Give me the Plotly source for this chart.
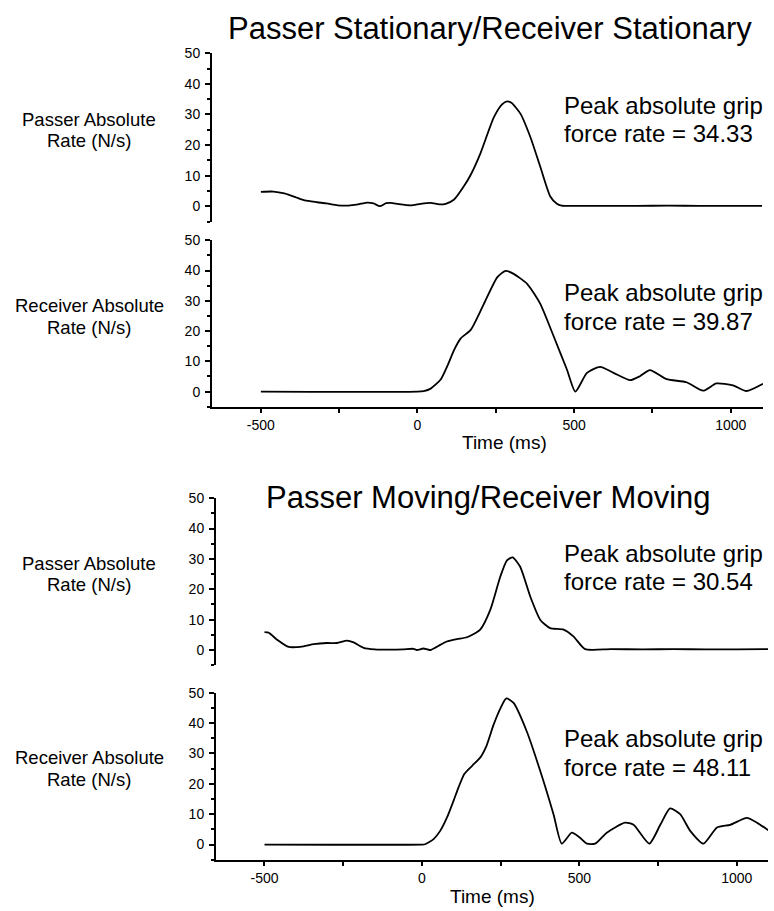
import plotly.graph_objects as go

# ---------------- data ----------------
ps_t = [-500, -460, -425, -390, -360, -320, -290, -255, -220, -190, -160, -140, -120, -100, -85, -60,
        -21, 10, 42, 70, 90, 117, 148, 170, 201, 244, 270, 286, 300, 329, 360, 392, 424, 445, 460,
        500, 600, 700, 800, 900, 1000, 1100]
ps_v = [4.7, 4.8, 4.2, 3.0, 1.9, 1.3, 0.9, 0.3, 0.2, 0.6, 1.2, 0.9, 0.0, 1.0, 1.1, 0.7,
        0.3, 0.8, 1.1, 0.6, 0.8, 2.2, 6.5, 10.3, 17.3, 29.1, 33.3, 34.3, 33.8, 30.2, 22.7, 12.9, 3.2, 0.8, 0.2,
        0.1, 0.1, 0.1, 0.2, 0.1, 0.1, 0.1]

rs_t = [-500, 0, 20, 42, 74, 95, 117, 138, 170, 212, 255, 281, 307, 350, 392, 435, 477, 504,
        541, 583, 626, 679, 710, 742, 795, 859, 912, 954, 1007, 1050, 1103]
rs_v = [0, 0, 0.2, 1.0, 4.0, 8.4, 13.8, 17.6, 20.4, 29.0, 37.8, 39.9, 38.9, 35.6, 29.0, 18.2, 7.3, 0.0,
        6.2, 8.2, 6.2, 3.8, 5.1, 7.1, 4.1, 3.1, 0.3, 2.7, 2.1, 0.2, 2.6]

pm_t = [-500, -487, -460, -423, -376, -344, -302, -270, -238, -217, -185, -150, -100, -60, -27, -16, 5, 26,
        58, 79, 111, 143, 185, 217, 249, 270, 288, 312, 344, 376, 407, 450, 481, 518,
        600, 700, 800, 900, 1000, 1100]
pm_v = [5.9, 5.7, 3.4, 1.0, 1.2, 1.9, 2.3, 2.3, 3.1, 2.5, 0.7, 0.2, 0.1, 0.2, 0.4, 0.0, 0.5, 0.0,
        1.7, 2.8, 3.6, 4.2, 6.7, 13.2, 24.2, 29.5, 30.5, 27.4, 17.6, 9.9, 7.2, 6.7, 4.5, 0.3,
        0.3, 0.2, 0.3, 0.2, 0.2, 0.3]

rm_t = [-500, 0, 10, 37, 58, 80, 100, 115, 135, 160, 185, 205, 227, 250, 268, 291, 333, 376, 418, 444,
        476, 500, 524, 550, 587, 645, 672, 722, 757, 788, 820, 852, 894, 937, 979, 1032, 1064, 1100]
rm_v = [0, 0, 0.1, 1.8, 4.5, 9.0, 14.3, 18.5, 23.3, 26.0, 28.6, 32.5, 39.3, 45.0, 48.1, 46.6, 37.2, 24.1,
        9.9, 0.3, 3.9, 2.4, 0.3, 0.3, 3.9, 7.2, 6.5, 0.3, 6.5, 11.9, 10.0, 4.5, 0.3, 5.6, 6.5, 8.8, 7.2, 4.7]

peaks = ["34.33", "39.87", "30.54", "48.11"]
titles = ["Passer Stationary/Receiver Stationary", "Passer Moving/Receiver Moving"]
ylabels = ["Passer Absolute", "Receiver Absolute", "Passer Absolute", "Receiver Absolute"]
xlabel = "Time (ms)"
xticks = [-500, 0, 500, 1000]
yticks = [0, 10, 20, 30, 40, 50]

# ---------------- layout helpers ----------------
W, H = 774, 911
FONT = "Liberation Sans, Arial, Helvetica, sans-serif"

def px(x):
    return x / W

def py(y):
    return 1 - y / H

series = [(ps_t, ps_v), (rs_t, rs_v), (pm_t, pm_v), (rm_t, rm_v)]
# pixel boxes: (left, right, top, bottom)
boxes = [(212, 763, 45.7, 215.4), (212, 763, 234.3, 402.3),
         (216, 768, 494.5, 663.0), (216, 768, 690.7, 859.3)]
xranges = [[-656, 1103], [-656, 1103], [-654, 1099], [-654, 1099]]
show_x = [False, True, False, True]

fig = go.Figure()
for i, ((t, v), box) in enumerate(zip(series, boxes)):
    n = "" if i == 0 else str(i + 1)
    fig.add_trace(go.Scatter(x=t, y=v, mode="lines", xaxis="x" + n, yaxis="y" + n,
                             line=dict(color="black", width=1.8, shape="spline", smoothing=0.6),
                             showlegend=False, hoverinfo="skip"))
    l, r, tp, bt = box
    xa = dict(domain=[px(l), px(r)], range=xranges[i], anchor="y" + n, showgrid=False,
              zeroline=False)
    if show_x[i]:
        xa.update(showline=True, linecolor="black", linewidth=2, ticks="outside", ticklen=4,
                  tickwidth=1.5, tickcolor="black", tickvals=xticks,
                  ticktext=[str(k) for k in xticks],
                  tickfont=dict(family=FONT, size=14, color="black"),
                  minor=dict(dtick=250, tick0=0, ticks="outside", ticklen=4, tickwidth=1.5,
                             tickcolor="black", showgrid=False))
    else:
        xa.update(showline=False, showticklabels=False, ticks="")
    ya = dict(domain=[py(bt), py(tp)], range=[-5, 50], anchor="x" + n, showgrid=False,
              zeroline=False, showline=True, linecolor="black", linewidth=2,
              ticks="outside", ticklen=5, tickwidth=1.5, tickcolor="black",
              tickvals=yticks, ticktext=[str(k) for k in yticks], ticklabelstandoff=2,
              tickfont=dict(family=FONT, size=14, color="black"),
              minor=dict(tickvals=[-5, 5, 15, 25, 35, 45], ticks="outside", ticklen=3,
                         tickwidth=1.5, tickcolor="black", showgrid=False))
    fig.layout["xaxis" + n] = xa
    fig.layout["yaxis" + n] = ya

ann = []
def text(x, y, s, size, xanchor="center"):
    ann.append(dict(x=px(x), y=py(y), xref="paper", yref="paper", text=s, showarrow=False,
                    xanchor=xanchor, yanchor="middle",
                    font=dict(family=FONT, size=size, color="black")))

text(490, 21, titles[0], 31)
text(488, 494, titles[1], 31)

ylab_y = [112, 300, 560, 756]
for i, yy in enumerate(ylab_y):
    text(89, yy, ylabels[i], 18.5)
    text(89, yy + 22, "Rate (N/s)", 18.5)

peak_y = [98, 287, 550, 737]
for i, yy in enumerate(peak_y):
    text(562, yy, "Peak absolute grip", 24, xanchor="left")
    text(562, yy + 29, "force rate = " + peaks[i], 24, xanchor="left")

text(504, 438, xlabel, 19)
text(493, 896, xlabel, 19)

fig.update_layout(width=W, height=H, margin=dict(l=0, r=0, t=0, b=0),
                  paper_bgcolor="white", plot_bgcolor="white", annotations=ann,
                  showlegend=False)

fig.write_html("out.html")
